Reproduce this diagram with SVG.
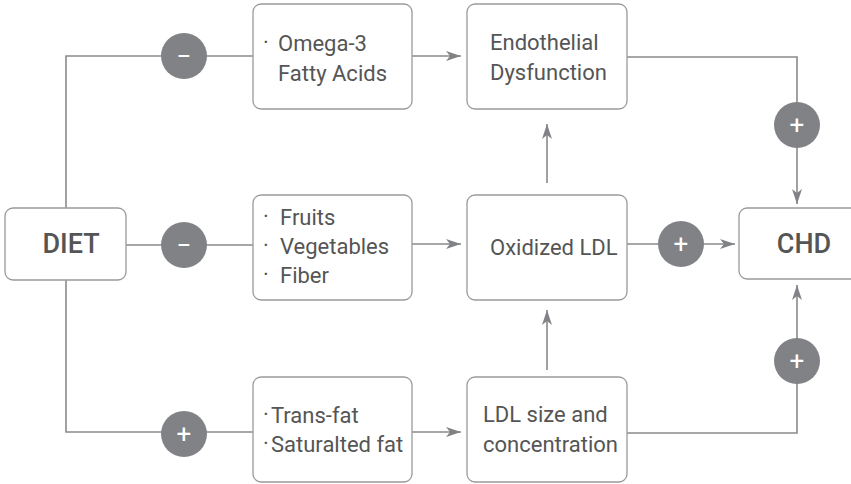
<svg xmlns="http://www.w3.org/2000/svg" width="851" height="484" viewBox="0 0 851 484">
<style>
.box{fill:#fff;stroke:#9a9a9a;stroke-width:1.3}
.ln{fill:none;stroke:#8a8a8a;stroke-width:1.6}
.sign{fill:#808285}
.t{font-family:Roboto,"Liberation Sans",sans-serif;font-size:22px;fill:#555}
.big{font-family:Roboto,"Liberation Sans",sans-serif;font-size:27px;font-weight:500;fill:#555;text-anchor:middle}
.op{font-family:Roboto,"Liberation Sans",sans-serif;font-size:26px;fill:#fff;text-anchor:middle}
</style>
<defs>
<marker id="ah" markerUnits="userSpaceOnUse" markerWidth="16" markerHeight="12" refX="15" refY="5" orient="auto">
<path d="M0,0 L15,5 L0,10 L4,5 Z" fill="#808285"/>
</marker>
</defs>
<g id="connectors">
<path class="ln" d="M66,209 V56 H253"/>
<path class="ln" d="M126,245 H253"/>
<path class="ln" d="M66,280 V432 H253"/>
<path class="ln" d="M412,56 H461" marker-end="url(#ah)"/>
<path class="ln" d="M412,244 H461" marker-end="url(#ah)"/>
<path class="ln" d="M412,432 H461" marker-end="url(#ah)"/>
<path class="ln" d="M547,183 V124" marker-end="url(#ah)"/>
<path class="ln" d="M547,370 V310" marker-end="url(#ah)"/>
<path class="ln" d="M627,244 H735" marker-end="url(#ah)"/>
<path class="ln" d="M627,57 H797 V204" marker-end="url(#ah)"/>
<path class="ln" d="M627,433 H797 V285" marker-end="url(#ah)"/>
</g>
<g id="op1"><circle class="sign" cx="184" cy="56" r="23"/><text class="op" x="184" y="65">−</text></g>
<g id="op2"><circle class="sign" cx="184" cy="245" r="23"/><text class="op" x="184" y="254">−</text></g>
<g id="op3"><circle class="sign" cx="184" cy="434" r="23"/><text class="op" x="184" y="443">+</text></g>
<g id="op4"><circle class="sign" cx="681" cy="244" r="23"/><text class="op" x="681" y="253">+</text></g>
<g id="op5"><circle class="sign" cx="797" cy="125" r="23"/><text class="op" x="797" y="134">+</text></g>
<g id="op6"><circle class="sign" cx="797" cy="361" r="23"/><text class="op" x="797" y="370">+</text></g>
<g id="diet"><rect class="box" x="5" y="208" width="121" height="72" rx="8"/><text class="big" x="71" y="253">DIET</text></g>
<g id="chd"><rect class="box" x="739" y="208" width="125" height="71" rx="8"/><text class="big" x="804" y="253">CHD</text></g>
<g id="omega"><rect class="box" x="253" y="4" width="159" height="105" rx="8"/>
<text class="t" x="263" y="50">·</text><text class="t" x="278" y="51">Omega-3</text>
<text class="t" x="278" y="81">Fatty Acids</text></g>
<g id="fruits"><rect class="box" x="253" y="195" width="159" height="105" rx="8"/>
<text class="t" x="263" y="224">·</text><text class="t" x="280" y="225">Fruits</text>
<text class="t" x="263" y="253">·</text><text class="t" x="280" y="254">Vegetables</text>
<text class="t" x="263" y="282">·</text><text class="t" x="280" y="283">Fiber</text></g>
<g id="fats"><rect class="box" x="253" y="377" width="159" height="105" rx="8"/>
<text class="t" x="263" y="422">·</text><text class="t" x="271" y="423">Trans-fat</text>
<text class="t" x="263" y="451">·</text><text class="t" x="271" y="452">Saturalted fat</text></g>
<g id="endo"><rect class="box" x="467" y="4" width="160" height="105" rx="8"/>
<text class="t" x="490" y="50">Endothelial</text>
<text class="t" x="490" y="80">Dysfunction</text></g>
<g id="oxldl"><rect class="box" x="467" y="195" width="160" height="105" rx="8"/>
<text class="t" x="490" y="255">Oxidized LDL</text></g>
<g id="ldlsize"><rect class="box" x="467" y="377" width="160" height="105" rx="8"/>
<text class="t" x="483" y="422">LDL size and</text>
<text class="t" x="483" y="452">concentration</text></g>
</svg>
